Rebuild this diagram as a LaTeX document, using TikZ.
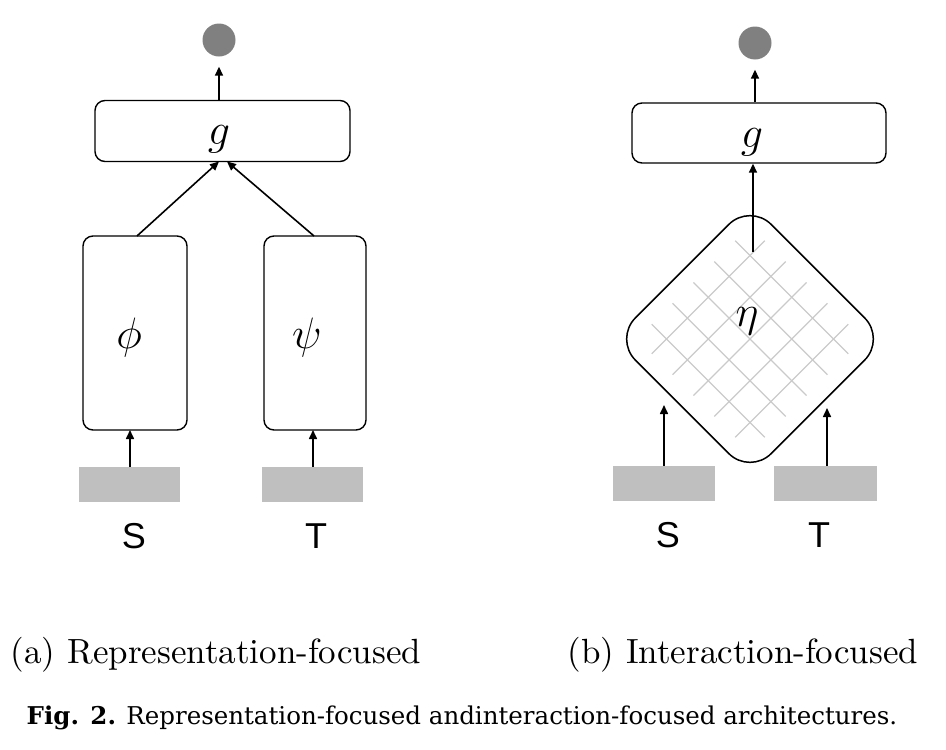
\RequirePackage{fix-cm}
\documentclass[tikz,border=0pt]{standalone}
\usepackage{fontspec}
\newfontfamily\sansf{Liberation Sans}
\newfontfamily\capf{DejaVu Serif}
\newfontfamily\lmten{lmroman10-regular.otf}
\usetikzlibrary{arrows.meta}
\definecolor{inputgray}{HTML}{BFBFBF}
\definecolor{outgray}{HTML}{808080}
\definecolor{gridgray}{HTML}{CACACA}
\begin{document}
\begin{tikzpicture}[x=1pt,y=-1pt,
  box/.style={draw, line width=1.4pt, rounded corners=10pt, inner sep=0pt},
  inputbar/.style={fill=inputgray, draw=none, minimum width=101pt, minimum height=35pt, inner sep=0pt},
  outdot/.style={circle, fill=outgray, draw=none, minimum size=33pt, inner sep=0pt},
  arr/.style={line width=1.6pt, -{Triangle[length=9pt,width=8pt]}},
  mathlbl/.style={font=\fontsize{44}{50}\selectfont, inner sep=0pt, anchor=base},
  letter/.style={font=\sansf\fontsize{36}{40}\selectfont, inner sep=0pt, anchor=base},
  sublbl/.style={font=\lmten\fontsize{35}{40}\selectfont, inner sep=0pt, anchor=base},
  gridline/.style={draw=gridgray, line width=1.2pt}
]
\useasboundingbox (0,0) rectangle (946,750);

% ---------- (a) representation-focused ----------
\node[outdot] (oL) at (219,40) {};
\node[box, minimum width=255pt, minimum height=61pt] (gL) at (222.5,131) {};
\node[mathlbl] at (219,144) {$g$};
\node[box, minimum width=104pt, minimum height=194pt] (phi) at (135,333) {};
\node[mathlbl] at (129,348) {$\phi$};
\node[box, minimum width=102pt, minimum height=194pt] (psi) at (315,333) {};
\node[mathlbl] at (307,348) {$\psi$};
\node[inputbar] (sL) at (129.5,484.5) {};
\node[inputbar] (tL) at (312.5,484.5) {};
\node[letter] at (134,548) {S};
\node[letter] at (316,548) {T};

\coordinate (phiTop) at (137,236);
\coordinate (psiTop) at (314,236);
\coordinate (gLinA) at (219,161.5);
\coordinate (gLinB) at (227,161.5);
\draw[arr] (phiTop) -- (gLinA);
\draw[arr] (psiTop) -- (gLinB);
\draw[arr] (gL.north -| oL) -- ([yshift=-10pt]oL.south);
\coordinate (phiIn) at (130,430);
\coordinate (sLup) at (130,467);
\draw[arr] (sLup) -- (phiIn);
\coordinate (psiIn) at (313,430);
\coordinate (tLup) at (313,467);
\draw[arr] (tLup) -- (psiIn);

\node[sublbl] at (216,663) {(a) Representation-focused};

% ---------- (b) interaction-focused ----------
\node[outdot] (oR) at (755,43) {};
\node[box, minimum width=254pt, minimum height=60pt] (gR) at (759,133) {};
\node[mathlbl] at (752,147) {$g$};

\coordinate (etaC) at (750,339);
\begin{scope}[shift={(etaC)}, rotate=45]
  \foreach \u in {-59,-29.5,0,29.5,59} {
    \draw[gridline] (\u,-80) -- (\u,80);
    \draw[gridline] (-80,\u) -- (80,\u);
  }
  \draw[line width=1.5pt, rounded corners=30pt] (-96,-96) rectangle (96,96);
\end{scope}
\node[mathlbl] (eta) at (747,326) {$\eta$};

\coordinate (etaOut) at (753,252);
\draw[arr] (etaOut) -- (etaOut |- gR.south);
\draw[arr] (gR.north -| oR) -- ([yshift=-10pt]oR.south);

\node[inputbar, minimum width=102pt] (sR) at (664,483.5) {};
\node[inputbar, minimum width=103pt] (tR) at (825.5,483.5) {};
\node[letter] at (668,547) {S};
\node[letter] at (819,547) {T};
\coordinate (etaInS) at (664,405);
\coordinate (etaInT) at (827,408);
\draw[arr] (sR.north -| etaInS) -- (etaInS);
\draw[arr] (tR.north -| etaInT) -- (etaInT);

\node[sublbl] at (743,663) {(b) Interaction-focused};

% ---------- caption ----------
\node[font=\capf\fontsize{24.5}{28}\selectfont, inner sep=0pt, anchor=base] (cap) at (462,724)
  {\textbf{Fig. 2.} Representation-focused andinteraction-focused architectures.};
\end{tikzpicture}
\end{document}
